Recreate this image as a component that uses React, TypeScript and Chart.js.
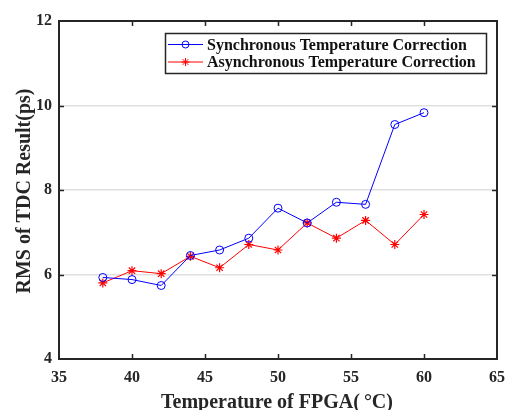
import React, { useEffect, useRef } from "react";
import { Chart, registerables } from "chart.js";

Chart.register(...registerables);

const temperatures = [38, 40, 42, 44, 46, 48, 50, 52, 54, 56, 58, 60];
const syncValues = [5.93, 5.88, 5.74, 6.45, 6.58, 6.86, 7.57, 7.22, 7.71, 7.66, 9.55, 9.83];
const asyncValues = [5.8, 6.09, 6.02, 6.43, 6.16, 6.71, 6.58, 7.22, 6.86, 7.28, 6.71, 7.42];
const seriesNames = ["Synchronous Temperature Correction", "Asynchronous Temperature Correction"];
const xTitle = "Temperature of FPGA(\u2009\u00B0C)";
const yTitle = "RMS of TDC Result(ps)";

const FONT = '"Liberation Serif", "Times New Roman", serif';

const framePlugin = {
  id: "framePlugin",
  afterDraw(chart: any) {
    const { ctx, chartArea } = chart;
    const { left, right, top, bottom } = chartArea;
    const xs = chart.scales.x;
    const ys = chart.scales.y;
    ctx.save();
    // inner ticks
    ctx.strokeStyle = "#262626";
    ctx.lineWidth = 1.5;
    const tl = 5;
    ctx.beginPath();
    xs.ticks.forEach((t: any) => {
      const px = Math.round(xs.getPixelForValue(t.value)) + 0.5;
      if (px <= left + 1 || px >= right - 1) return;
      ctx.moveTo(px, bottom);
      ctx.lineTo(px, bottom - tl);
      ctx.moveTo(px, top);
      ctx.lineTo(px, top + tl);
    });
    ys.ticks.forEach((t: any) => {
      const py = Math.round(ys.getPixelForValue(t.value)) + 0.5;
      if (py <= top + 1 || py >= bottom - 1) return;
      ctx.moveTo(left, py);
      ctx.lineTo(left + tl, py);
      ctx.moveTo(right, py);
      ctx.lineTo(right - tl, py);
    });
    ctx.stroke();
    // frame
    ctx.lineWidth = 2;
    ctx.strokeRect(left, top, right - left, bottom - top);

    // legend
    const lx = 165.5, ly = 33.5, lw = 321, lh = 40;
    ctx.fillStyle = "#ffffff";
    ctx.fillRect(lx, ly, lw, lh);
    ctx.lineWidth = 1.5;
    ctx.strokeStyle = "#262626";
    ctx.strokeRect(lx, ly, lw, lh);
    const rows = [44.5, 62];
    const colors = ["#0000ff", "#ff0000"];
    ctx.font = `bold 16px ${FONT}`;
    ctx.textAlign = "left";
    ctx.textBaseline = "middle";
    rows.forEach((ry, i) => {
      ctx.strokeStyle = colors[i];
      ctx.lineWidth = 1;
      ctx.beginPath();
      ctx.moveTo(168, ry);
      ctx.lineTo(203, ry);
      ctx.stroke();
      const style = chart.data.datasets[i].pointStyle;
      if (style === "circle") {
        ctx.beginPath();
        ctx.arc(185.5, ry, 3.5, 0, Math.PI * 2);
        ctx.stroke();
      } else {
        const r = 4;
        ctx.beginPath();
        for (let k = 0; k < 4; k++) {
          const a = (k * Math.PI) / 4;
          ctx.moveTo(185.5 - r * Math.cos(a), ry - r * Math.sin(a));
          ctx.lineTo(185.5 + r * Math.cos(a), ry + r * Math.sin(a));
        }
        ctx.stroke();
      }
      ctx.fillStyle = "#111111";
      ctx.fillText(seriesNames[i], 207, ry + 1);
    });

    // axis titles
    ctx.fillStyle = "#262626";
    ctx.font = `bold 20px ${FONT}`;
    ctx.textAlign = "center";
    ctx.textBaseline = "alphabetic";
    ctx.fillText(xTitle, 277, 408);
    ctx.save();
    ctx.translate(30, 191);
    ctx.rotate(-Math.PI / 2);
    ctx.fillText(yTitle, 0, 0);
    ctx.restore();
    ctx.restore();
  },
};

export default function App() {
  const ref = useRef<HTMLCanvasElement>(null);
  useEffect(() => {
    document.body.style.margin = "0";
    const canvas = ref.current!;
    const chart = new Chart(canvas, {
      type: "line",
      data: {
        datasets: [
          {
            label: seriesNames[0],
            data: temperatures.map((t, i) => ({ x: t, y: syncValues[i] })),
            borderColor: "#0000ff",
            backgroundColor: "#0000ff",
            borderWidth: 1,
            pointStyle: "circle",
            pointRadius: 4,
            pointBorderWidth: 1,
            pointBorderColor: "#0000ff",
            pointBackgroundColor: "rgba(0,0,0,0)",
            tension: 0,
          },
          {
            label: seriesNames[1],
            data: temperatures.map((t, i) => ({ x: t, y: asyncValues[i] })),
            borderColor: "#ff0000",
            backgroundColor: "#ff0000",
            borderWidth: 1,
            pointStyle: "star",
            pointRadius: 4.5,
            pointBorderWidth: 1.2,
            pointBorderColor: "#ff0000",
            pointBackgroundColor: "#ff0000",
            tension: 0,
          },
        ],
      },
      options: {
        animation: false,
        responsive: false,
        layout: { padding: { top: 21, right: 8, left: 0, bottom: 0 } },
        plugins: { legend: { display: false }, tooltip: { enabled: false } },
        scales: {
          x: {
            type: "linear",
            min: 35,
            max: 65,
            ticks: {
              stepSize: 5,
              color: "#262626",
              padding: 9,
              font: { family: FONT, size: 16, weight: "bold" },
            },
            grid: { display: false, drawTicks: false },
            border: { display: false },
            afterFit: (s: any) => {
              s.height = 51;
              s.paddingLeft = 0;
              s.paddingRight = 0;
            },
          },
          y: {
            type: "linear",
            min: 4,
            max: 12,
            ticks: {
              stepSize: 2,
              color: "#262626",
              padding: 7,
              font: { family: FONT, size: 16, weight: "bold" },
            },
            grid: { color: "#e0e0e0", lineWidth: 1.5, drawTicks: false },
            border: { display: false },
            afterFit: (s: any) => {
              s.width = 59;
              s.paddingTop = 0;
              s.paddingBottom = 0;
            },
          },
        },
      },
      plugins: [framePlugin],
    } as any);
    return () => chart.destroy();
  }, []);
  return <canvas ref={ref} width={505} height={410} style={{ display: "block" }} />;
}
